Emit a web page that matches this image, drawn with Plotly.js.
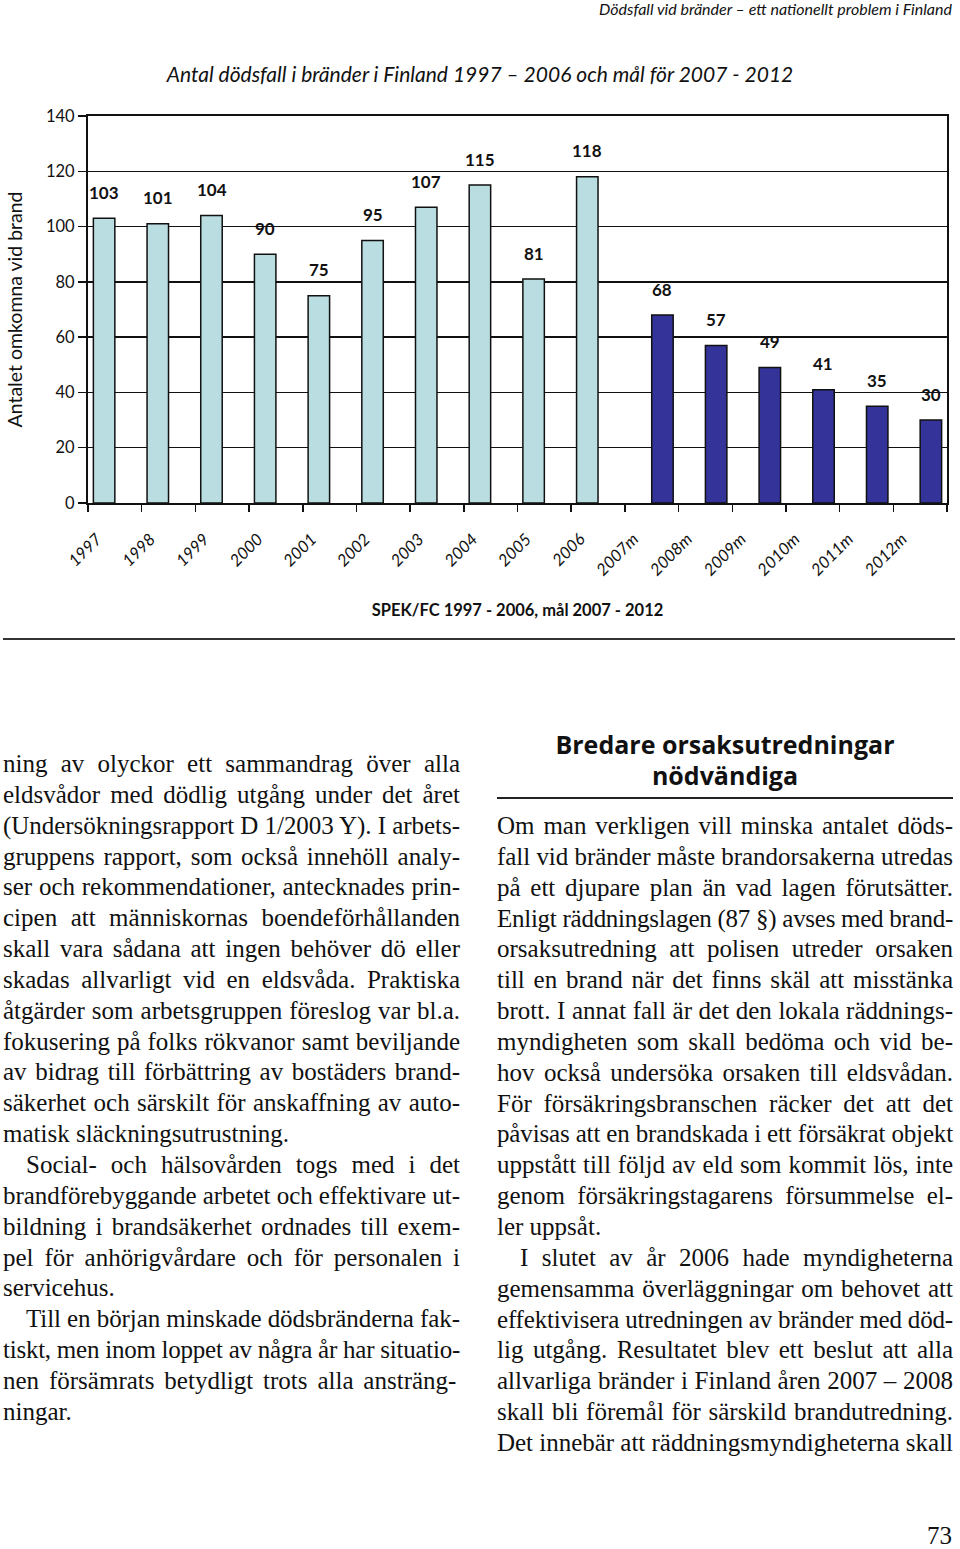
<!DOCTYPE html>
<html>
<head>
<meta charset="utf-8">
<script src="https://cdn.plot.ly/plotly-3.0.1.min.js"></script>
<style>
  html, body { margin:0; padding:0; background:#fff; }
  body { width:960px; height:1549px; position:relative; overflow:hidden; }
  #chart { position:absolute; left:0; top:0; width:960px; height:640px; }
  #header { position:absolute; right:8px; top:-1px; font-family:Lato, sans-serif; font-style:italic; font-size:16px; color:#111; }
  #rule { position:absolute; left:3px; top:638px; width:952px; height:2px; background:#333; }
  .col { position:absolute; font-family:"Liberation Serif", "Times New Roman", serif; font-size:25px; line-height:30.85px; color:#111; }
  .col div { white-space:nowrap; }
  #left { left:3px; top:749px; width:457px; }
  #right { left:497px; top:811px; width:456px; }
  #heading { position:absolute; left:497px; top:729px; width:456px; text-align:center; font-family:"Open Sans", sans-serif; font-weight:bold; font-size:25px; line-height:31px; color:#111; }
  #hrule { position:absolute; left:497px; top:797px; width:456px; height:1.5px; background:#222; }
  #pageno { position:absolute; right:8px; top:1522px; font-family:"Liberation Serif", serif; font-size:25px; color:#111; }
</style>
</head>
<body>
<div id="header">Dödsfall vid bränder – ett nationellt problem i Finland</div>
<div id="chart"></div>
<div id="rule"></div>

<div id="left" class="col">
<div class="j">ning av olyckor ett sammandrag över alla</div>
<div class="j">eldsvådor med dödlig utgång under det året</div>
<div class="j">(Undersökningsrapport D 1/2003 Y). I arbets-</div>
<div class="j">gruppens rapport, som också innehöll analy-</div>
<div class="j">ser och rekommendationer, antecknades prin-</div>
<div class="j">cipen att människornas boendeförhållanden</div>
<div class="j">skall vara sådana att ingen behöver dö eller</div>
<div class="j">skadas allvarligt vid en eldsvåda. Praktiska</div>
<div class="j">åtgärder som arbetsgruppen föreslog var bl.a.</div>
<div class="j">fokusering på folks rökvanor samt beviljande</div>
<div class="j">av bidrag till förbättring av bostäders brand-</div>
<div class="j">säkerhet och särskilt för anskaffning av auto-</div>
<div>matisk släckningsutrustning.</div>
<div class="j ind">Social- och hälsovården togs med i det</div>
<div class="j">brandförebyggande arbetet och effektivare ut-</div>
<div class="j">bildning i brandsäkerhet ordnades till exem-</div>
<div class="j">pel för anhörigvårdare och för personalen i</div>
<div>servicehus.</div>
<div class="j ind">Till en början minskade dödsbränderna fak-</div>
<div class="j">tiskt, men inom loppet av några år har situatio-</div>
<div class="j">nen försämrats  betydligt trots alla ansträng-</div>
<div>ningar.</div>
</div>

<div id="heading">Bredare orsaksutredningar<br>nödvändiga</div>
<div id="hrule"></div>

<div id="right" class="col">
<div class="j">Om man verkligen vill minska antalet döds-</div>
<div class="j">fall vid bränder måste brandorsakerna utredas</div>
<div class="j">på ett djupare plan än vad lagen förutsätter.</div>
<div class="j">Enligt räddningslagen (87 §) avses med brand-</div>
<div class="j">orsaksutredning att polisen utreder orsaken</div>
<div class="j">till en brand när det finns skäl att misstänka</div>
<div class="j">brott. I annat fall är det den lokala räddnings-</div>
<div class="j">myndigheten som skall bedöma och vid be-</div>
<div class="j">hov också undersöka orsaken till eldsvådan.</div>
<div class="j">För försäkringsbranschen räcker det att det</div>
<div class="j">påvisas att en brandskada i ett försäkrat objekt</div>
<div class="j">uppstått till följd av eld som kommit lös, inte</div>
<div class="j">genom försäkringstagarens försummelse el-</div>
<div>ler uppsåt.</div>
<div class="j ind">I slutet av år 2006 hade myndigheterna</div>
<div class="j">gemensamma överläggningar om behovet att</div>
<div class="j">effektivisera utredningen av bränder med död-</div>
<div class="j">lig utgång. Resultatet blev ett beslut att alla</div>
<div class="j">allvarliga bränder i Finland åren 2007 – 2008</div>
<div class="j">skall bli föremål för särskild brandutredning.</div>
<div class="j">Det innebär att räddningsmyndigheterna skall</div>
</div>

<div id="pageno">73</div>

<script>
// ---- chart data ----
const categories = ["1997","1998","1999","2000","2001","2002","2003","2004","2005","2006",
                    "2007m","2008m","2009m","2010m","2011m","2012m"];
const actualDeaths = [103,101,104,90,75,95,107,115,81,118,null,null,null,null,null,null];
const targetDeaths = [null,null,null,null,null,null,null,null,null,null,68,57,49,41,35,30];
const yTickValues = [0,20,40,60,80,100,120,140];

const chartTitle = "Antal dödsfall i bränder i Finland 1997 – 2006 och mål för 2007 - 2012";
const xTitle = "SPEK/FC 1997 - 2006, mål 2007 - 2012";
const yTitle = "Antalet omkomna vid brand";

const FONT = "Lato, 'Open Sans', sans-serif";

const traces = [
  { type:"bar", x:categories, y:actualDeaths, name:"1997-2006",
    marker:{ color:"#b9dde1", line:{ color:"#111", width:1.5 } }, hoverinfo:"x+y" },
  { type:"bar", x:categories, y:targetDeaths, name:"mål",
    marker:{ color:"#333399", line:{ color:"#111", width:1.5 } }, hoverinfo:"x+y" }
];

// value labels above bars, built from the data arrays (x given as category index)
const annotations = [];
const halfBar = 10.7;
const labelFont = { family:FONT, size:17, color:"#111", weight:"bold" };
categories.forEach((c, i) => {
  if (actualDeaths[i] !== null) annotations.push({ x:i, y:actualDeaths[i], text:String(actualDeaths[i]),
    showarrow:false, xshift:-halfBar, yshift:26, yanchor:"middle", font:labelFont });
  if (targetDeaths[i] !== null) annotations.push({ x:i, y:targetDeaths[i], text:String(targetDeaths[i]),
    showarrow:false, xshift:halfBar, yshift:26, yanchor:"middle", font:labelFont });
});

const layout = {
  width:960, height:640,
  margin:{ l:88, r:13, t:116, b:137 },
  paper_bgcolor:"rgba(0,0,0,0)", plot_bgcolor:"#fff",
  showlegend:false,
  barmode:"group", bargap:0.2, bargroupgap:0,
  title:{ text:chartTitle, x:0.5, xref:"container", y:1-75/640, yref:"container", yanchor:"middle",
          font:{ family:FONT, size:21, style:"italic", color:"#111" } },
  font:{ family:FONT, color:"#111" },
  xaxis:{ type:"category", range:[-0.5, categories.length-0.5], autorange:false,
          tickson:"boundaries", ticks:"outside", ticklen:7, tickwidth:1.5, tickcolor:"#111",
          showline:true, linecolor:"#111", linewidth:2, mirror:true, showgrid:false,
          tickangle:-45, ticklabelstandoff:18, ticklabelshift:-18,
          tickfont:{ family:FONT, size:16.5, style:"italic", color:"#111" },
          title:{ text:xTitle, standoff:26, font:{ family:FONT, size:16.5, weight:"bold", color:"#111" } } },
  yaxis:{ range:[0,140], autorange:false, tickvals:yTickValues, ticks:"outside", ticklen:8, tickwidth:1.5, tickcolor:"#111",
          showline:true, linecolor:"#111", linewidth:2, mirror:true,
          showgrid:true, gridcolor:"#111", gridwidth:1.5, zeroline:false,
          tickfont:{ family:FONT, size:16.5, color:"#111" },
          title:{ text:yTitle, standoff:18, font:{ family:FONT, size:19.5, color:"#111" } } },
  annotations:annotations
};

Plotly.newPlot("chart", traces, layout, { displayModeBar:false, staticPlot:true });

// justify text lines to column width
function justify() {
  document.querySelectorAll(".col").forEach(col => {
    const W = col.clientWidth;
    col.querySelectorAll("div").forEach(d => {
      const indent = d.classList.contains("ind") ? 23 : 0;
      d.style.paddingLeft = indent + "px";
      if (!d.classList.contains("j")) return;
      const span = document.createElement("span");
      span.textContent = d.textContent;
      d.textContent = "";
      d.appendChild(span);
      const natural = span.getBoundingClientRect().width;
      const avail = W - indent;
      const spaces = (span.textContent.match(/ /g) || []).length;
      let extra = avail - natural;
      if (extra < 0) {
        const n = span.textContent.length;
        span.style.letterSpacing = (extra / n) + "px";
        extra = avail - span.getBoundingClientRect().width;
      }
      if (spaces > 0) span.style.wordSpacing = (extra / spaces) + "px";
    });
  });
}
if (document.fonts && document.fonts.ready) document.fonts.ready.then(justify); else justify();
</script>
</body>
</html>
